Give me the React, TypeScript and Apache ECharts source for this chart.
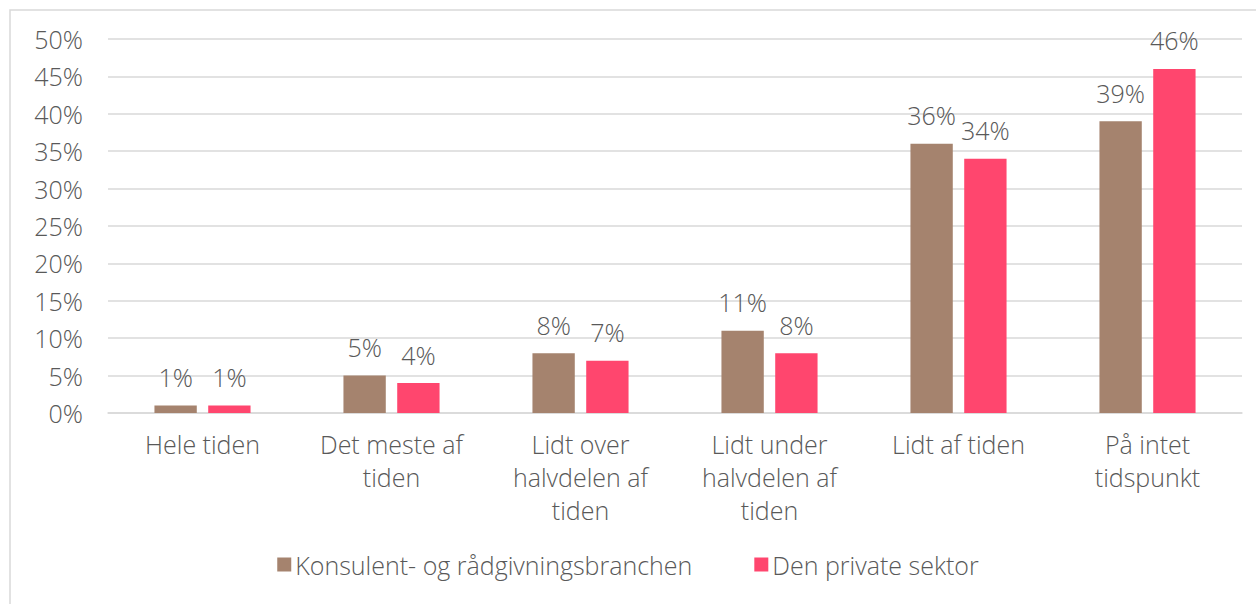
import React, { useEffect, useRef } from "react";
import * as echarts from "echarts";

const categories = [
  "Hele tiden",
  "Det meste af\ntiden",
  "Lidt over\nhalvdelen af\ntiden",
  "Lidt under\nhalvdelen af\ntiden",
  "Lidt af tiden",
  "På intet\ntidspunkt",
];
const seriesNames = ["Konsulent- og rådgivningsbranchen", "Den private sektor"];
const konsulent = [1, 5, 8, 11, 36, 39];
const privat = [1, 4, 7, 8, 34, 46];

const FONT = "Open Sans";
const WEIGHT = 300;
const SIZE = 25;
const TEXT = "#595959";

export default function App() {
  const ref = useRef<HTMLDivElement>(null);
  useEffect(() => {
    const chart = echarts.init(ref.current!, null, { renderer: "svg" });
    const labelCfg = {
      show: true,
      position: "top",
      distance: 16,
      formatter: "{c}%",
      color: TEXT,
      fontFamily: FONT,
      fontWeight: WEIGHT,
      fontSize: SIZE,
    };
    chart.setOption({
      animation: false,
      textStyle: { fontFamily: FONT },
      graphic: [
        {
          type: "rect",
          shape: { x: 10, y: 10, width: 1260, height: 620 },
          style: { fill: "none", stroke: "#D9D9D9", lineWidth: 1.5 },
          silent: true,
          z: -1,
        },
      ],
      legend: {
        bottom: 22,
        left: "center",
        itemWidth: 14,
        itemHeight: 14,
        itemGap: 62,
        icon: "rect",
        textStyle: { color: TEXT, fontFamily: FONT, fontWeight: WEIGHT, fontSize: SIZE, padding: [0, 0, 0, -1] },
        data: seriesNames,
      },
      grid: { left: 108, right: 14, top: 39, bottom: 191, containLabel: false },
      xAxis: {
        type: "category",
        data: categories,
        axisLine: { show: true, lineStyle: { color: "#D9D9D9", width: 1.5 } },
        axisTick: { show: false },
        axisLabel: {
          color: TEXT,
          fontFamily: FONT,
          fontWeight: WEIGHT,
          fontSize: SIZE,
          lineHeight: 33,
          margin: 14,
          interval: 0,
          verticalAlign: "top",
        },
      },
      yAxis: {
        type: "value",
        min: 0,
        max: 50,
        interval: 5,
        axisLine: { show: false },
        axisTick: { show: false },
        splitLine: { lineStyle: { color: "#D9D9D9", width: 1.5 } },
        axisLabel: {
          formatter: "{value}%",
          color: TEXT,
          fontFamily: FONT,
          fontWeight: WEIGHT,
          fontSize: SIZE,
          margin: 25,
        },
      },
      series: [
        {
          name: seriesNames[0],
          type: "bar",
          data: konsulent,
          barWidth: "22.4%",
          barGap: "27%",
          itemStyle: { color: "#A5836E" },
          label: labelCfg,
        },
        {
          name: seriesNames[1],
          type: "bar",
          data: privat,
          barWidth: "22.4%",
          itemStyle: { color: "#FF466E" },
          label: labelCfg,
        },
      ],
    });
    return () => chart.dispose();
  }, []);
  return (
    <div
      ref={ref}
      style={{ position: "fixed", left: 0, top: 0, width: 1256, height: 604, background: "#fff" }}
    />
  );
}
